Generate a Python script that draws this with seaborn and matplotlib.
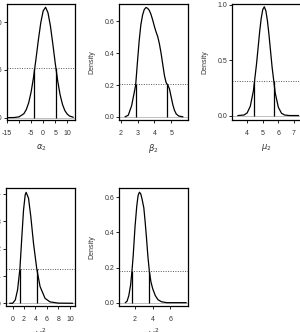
import matplotlib
matplotlib.use("Agg")
import matplotlib.pyplot as plt
import seaborn as sns

sns.set_style("white")
plt.rcParams["font.family"] = ["Liberation Sans", "DejaVu Sans"]
plt.rcParams["mathtext.fontset"] = "dejavusans"

# posterior density curves
alpha_x = [-14.5, -12, -10, -8, -7, -6, -5, -4, -3, -2, -1, 0, 1, 2, 3, 4, 5, 6, 7, 8, 9, 10, 11, 12.5]
alpha_y = [0.0, 0.0001, 0.0008, 0.0041, 0.0084, 0.0156, 0.0268, 0.0422, 0.0610, 0.0812, 0.0993, 0.1118,
           0.1156, 0.1098, 0.0961, 0.0772, 0.0571, 0.0388, 0.0242, 0.0139, 0.0073, 0.0036, 0.0016, 0.0004]

beta_x = [2.26, 2.45, 2.65, 2.8, 2.89, 3.0, 3.1, 3.2, 3.3, 3.4, 3.5, 3.6, 3.7, 3.8, 3.9, 4.0, 4.1, 4.2,
          4.3, 4.4, 4.5, 4.6, 4.7, 4.8, 4.9, 5.0, 5.1, 5.2, 5.3, 5.45, 5.7]
beta_y = [0.0, 0.01, 0.07, 0.15, 0.20, 0.35, 0.48, 0.58, 0.64, 0.675, 0.688, 0.683, 0.67, 0.645, 0.61,
          0.57, 0.535, 0.505, 0.46, 0.40, 0.33, 0.26, 0.215, 0.20, 0.175, 0.125, 0.075, 0.04, 0.018, 0.005, 0.0]

mu_x = [3.4, 3.8, 4.0, 4.2, 4.4, 4.6, 4.8, 4.9, 5.0, 5.1, 5.2, 5.3, 5.4, 5.6, 5.8, 6.0, 6.2, 6.4, 6.7, 7.3]
mu_y = [0.0, 0.005, 0.024, 0.083, 0.222, 0.463, 0.753, 0.875, 0.955, 0.98, 0.943, 0.853, 0.726, 0.434,
        0.203, 0.074, 0.021, 0.005, 0.0003, 0.0]

om_a_x = [-0.5, 0.0, 0.47, 0.87, 1.28, 1.62, 1.91, 2.2, 2.37, 2.78, 3.18, 3.65, 4.22, 4.8, 5.67, 6.53, 8.0, 10.5]
om_a_y = [0.0, 0.0, 0.012, 0.049, 0.126, 0.244, 0.34, 0.396, 0.405, 0.384, 0.317, 0.22, 0.126, 0.061,
          0.018, 0.005, 0.0005, 0.0]

om_b_x = [0.9, 1.1, 1.3, 1.5, 1.66, 1.8, 2.0, 2.2, 2.35, 2.5, 2.65, 2.8, 3.0, 3.15, 3.3, 3.45, 3.62,
          3.8, 4.0, 4.3, 4.6, 5.0, 5.6, 7.8]
om_b_y = [0.0, 0.008, 0.04, 0.10, 0.181, 0.27, 0.43, 0.55, 0.61, 0.629, 0.62, 0.59, 0.54, 0.46, 0.37,
          0.27, 0.181, 0.12, 0.08, 0.04, 0.017, 0.005, 0.0, 0.0]

# interval bounds and density level
alpha_hpd = [-3.6, 5.2]
alpha_lvl = 0.052
beta_hpd = [2.89, 4.73]
beta_lvl = 0.205
mu_hpd = [4.47, 5.72]
mu_lvl = 0.31
om_a_hpd = [1.28, 4.22]
om_a_lvl = 0.126
om_b_hpd = [1.66, 3.62]
om_b_lvl = 0.181

W, H = 300, 332
fig = plt.figure(figsize=(W / 100, H / 100), dpi=100)


def make_ax(left, top, width, height):
    return fig.add_axes([left / W, 1 - (top + height) / H, width / W, height / H])


panels = [
    # box px, x, y, hpd, level, xlim, ylim, xticks, xticklabels, yticks, yticklabels, xlabel, show_ylabel
    ((7, 4, 68, 116), alpha_x, alpha_y, alpha_hpd, alpha_lvl, (-14.8, 13.2), (-0.0025, 0.119),
     [-15, -10, -5, 0, 5, 10], ["-15", "", "-5", "0", "5", "10"], [0, 0.05, 0.10], ["0.00", "0.05", "0.10"],
     r"$\alpha_2$", False),
    ((119, 4, 69, 116), beta_x, beta_y, beta_hpd, beta_lvl, (1.9, 6.0), (-0.02, 0.71),
     [2, 3, 4, 5], ["2", "3", "4", "5"], [0, 0.2, 0.4, 0.6], ["0.0", "0.2", "0.4", "0.6"],
     r"$\beta_2$", True),
    ((232, 4, 69, 116), mu_x, mu_y, mu_hpd, mu_lvl, (3.03, 7.45), (-0.04, 1.005),
     [4, 5, 6, 7], ["4", "5", "6", "7"], [0, 0.5, 1.0], ["0.0", "0.5", "1.0"],
     r"$\mu_2$", True),
    ((6, 188, 69, 118), om_a_x, om_a_y, om_a_hpd, om_a_lvl, (-1.15, 10.9), (-0.01, 0.421),
     [0, 2, 4, 6, 8, 10], ["0", "2", "4", "6", "8", "10"], [0, 0.1, 0.2, 0.3, 0.4],
     ["0.0", "0.1", "0.2", "0.3", "0.4"], r"$\omega^2_{\alpha}$", False),
    ((119, 188, 69, 118), om_b_x, om_b_y, om_b_hpd, om_b_lvl, (0.19, 8.0), (-0.019, 0.653),
     [2, 4, 6], ["2", "4", "6"], [0, 0.2, 0.4, 0.6], ["0.0", "0.2", "0.4", "0.6"],
     r"$\omega^2_{\beta}$", True),
]

for (box, xs, ys, hpd, lvl, xlim, ylim, xt, xtl, yt, ytl, xlab, show_yl) in panels:
    ax = make_ax(*box)
    ax.axhline(0, color="#bebebe", lw=0.7)
    sns.lineplot(x=xs, y=ys, ax=ax, color="black", lw=0.9, estimator=None)
    ax.axhline(lvl, color="#555555", lw=0.7, ls=(0, (1, 1.5)))
    ax.vlines(hpd, 0, lvl, color="black", lw=0.9)
    ax.set_xlim(*xlim)
    ax.set_ylim(*ylim)
    ax.set_xticks(xt)
    ax.set_xticklabels(xtl)
    ax.set_yticks(yt)
    ax.set_yticklabels(ytl)
    ax.tick_params(axis="both", direction="out", width=0.6, labelsize=5,
                   color="black", labelcolor="#333333", bottom=True, left=True)
    ax.tick_params(axis="x", length=2.5, pad=4.5)
    ax.tick_params(axis="y", length=2.0, pad=1.5)
    for s in ax.spines.values():
        s.set_visible(True)
        s.set_color("black")
        s.set_linewidth(0.9)
    ax.set_xlabel(xlab, fontsize=6, color="#333333")
    ax.xaxis.set_label_coords(0.5, -22 / box[3] if box[1] < 100 else -20 / box[3])
    if show_yl:
        ax.set_ylabel("Density", fontsize=5, color="#333333")
        ax.yaxis.set_label_coords(-24 / box[2], 0.5)
    else:
        ax.set_ylabel("")

fig.savefig("out.png", dpi=100)
